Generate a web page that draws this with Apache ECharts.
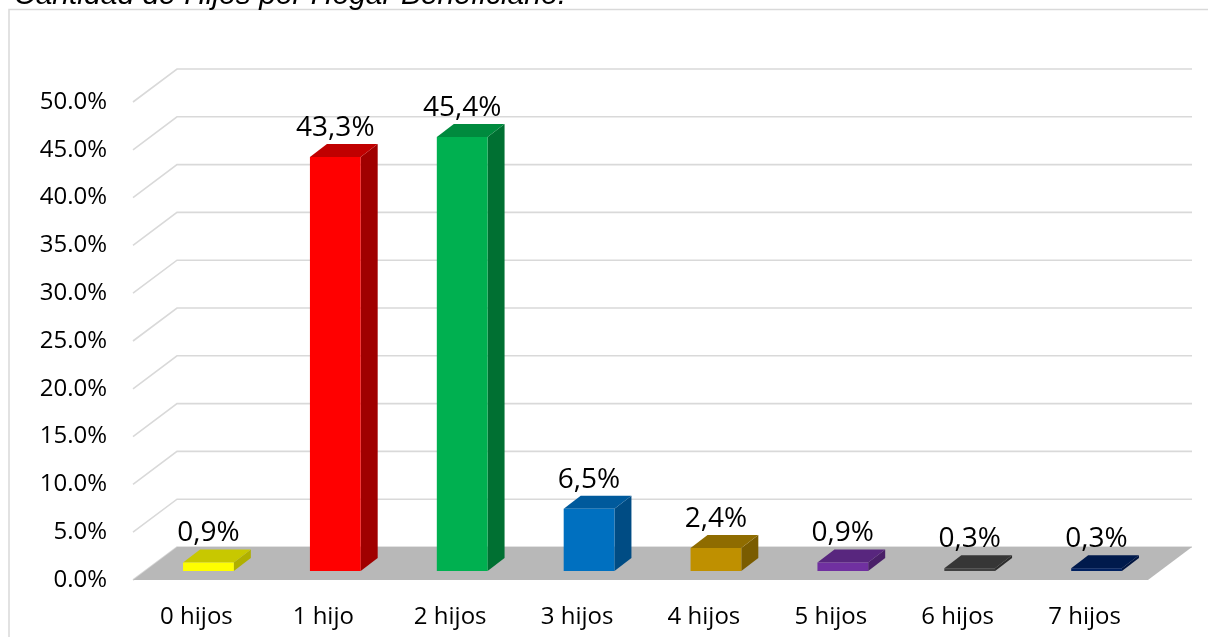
<!DOCTYPE html>
<html>
<head>
<meta charset="utf-8">
<script src="https://cdn.jsdelivr.net/npm/echarts@6/dist/echarts.min.js"></script>
<style>
  html,body{margin:0;padding:0;background:#fff;}
  #main{width:1208px;height:637px;}
</style>
</head>
<body>
<div id="main"></div>
<script>
var categorias = ['0 hijos', '1 hijo', '2 hijos', '3 hijos', '4 hijos', '5 hijos', '6 hijos', '7 hijos'];
var porcentajes = [0.9, 43.3, 45.4, 6.5, 2.4, 0.9, 0.3, 0.3];
var yTicks = [0, 5, 10, 15, 20, 25, 30, 35, 40, 45, 50];
var colorFrente = ['#ffff00', '#ff0000', '#00b050', '#0070c0', '#bf9000', '#7030a0', '#404040', '#002060'];
var colorTapa = ['#c8c800', '#c00000', '#008a3e', '#005a9c', '#8f6c00', '#58267e', '#363636', '#001a4c'];
var colorLado = ['#b0b000', '#a00000', '#007032', '#004c84', '#7a5c00', '#4a2068', '#2c2c2c', '#001440'];

// oblique depth of the 3D box (full floor depth, bar offset, bar depth)
var fondoX = 44, fondoY = -33;
var barOffX = 12, barOffY = -9;
var barDX = 17, barDY = -13;
var fuente = '"Open Sans", "Noto Sans", sans-serif';

function etiqueta(v){
  return v.toFixed(1).replace('.', ',') + '%';
}

var chart = echarts.init(document.getElementById('main'));

var option = {
  animation: false,
  graphic: [{
    type: 'rect',
    shape: {x: 9, y: 9.5, width: 1300, height: 700},
    style: {fill: 'none', stroke: '#d9d9d9', lineWidth: 1.5},
    z: -10
  }, {
    type: 'text',
    x: 14, y: 11,
    style: {
      text: 'Cantidad de Hijos por Hogar Beneficiario.',
      font: 'italic 30px "Liberation Sans", Arial, sans-serif',
      fill: '#000',
      verticalAlign: 'bottom'
    }
  }],
  grid: {
    left: 133,
    right: 60,
    top: 102,
    bottom: 57
  },
  xAxis: {
    type: 'category',
    data: categorias,
    axisLine: {show: false},
    axisTick: {show: false},
    axisLabel: {
      interval: 0,
      margin: 25,
      color: '#000',
      fontSize: 24,
      fontFamily: fuente
    }
  },
  yAxis: {
    type: 'value',
    min: 0,
    max: 50,
    interval: 5,
    axisLine: {show: false},
    axisTick: {show: false},
    splitLine: {show: false},
    axisLabel: {
      margin: 26,
      color: '#000',
      fontSize: 24,
      fontFamily: fuente,
      formatter: function(v){ return v.toFixed(1) + '%'; }
    }
  },
  series: [{
    // back wall + side wall gridlines
    type: 'custom',
    silent: true,
    z: 1,
    data: yTicks.map(function(t){ return [0, t]; }),
    renderItem: function(params, api){
      var cs = params.coordSys;
      var y = api.coord([0, api.value(1)])[1];
      var x0 = cs.x, x1 = cs.x + cs.width;
      return {
        type: 'polyline',
        shape: {points: [[x0, y], [x0 + fondoX, y + fondoY], [x1 + fondoX, y + fondoY]]},
        style: {stroke: '#d9d9d9', lineWidth: 1.6, fill: null}
      };
    }
  }, {
    // floor
    type: 'custom',
    silent: true,
    z: 2,
    data: [[0, 0]],
    renderItem: function(params, api){
      var cs = params.coordSys;
      var y = api.coord([0, 0])[1];
      var x0 = cs.x, x1 = cs.x + cs.width;
      return {
        type: 'polygon',
        shape: {points: [[x0, y], [x1, y], [x1 + fondoX, y + fondoY], [x0 + fondoX, y + fondoY]]},
        style: {fill: '#b8b8b8'}
      };
    }
  }, {
    // 3D bars
    type: 'custom',
    z: 3,
    data: porcentajes.map(function(v, i){ return [i, v]; }),
    renderItem: function(params, api){
      var i = api.value(0), v = api.value(1);
      var base = api.coord([i, 0]);
      var top = api.coord([i, v]);
      var w = api.size([1, 0])[0] * 0.4;
      var cx = base[0] + barOffX;
      var xl = cx - w / 2, xr = cx + w / 2;
      var yb = base[1] + barOffY, yt = top[1] + barOffY;
      var idx = params.dataIndex;
      return {
        type: 'group',
        children: [{
          type: 'polygon',
          shape: {points: [[xr, yt], [xr + barDX, yt + barDY], [xr + barDX, yb + barDY], [xr, yb]]},
          style: {fill: colorLado[idx]}
        }, {
          type: 'polygon',
          shape: {points: [[xl, yt], [xr, yt], [xr + barDX, yt + barDY], [xl + barDX, yt + barDY]]},
          style: {fill: colorTapa[idx]}
        }, {
          type: 'rect',
          shape: {x: xl, y: yt, width: w, height: yb - yt},
          style: {fill: colorFrente[idx]}
        }, {
          type: 'text',
          x: cx,
          y: yt + barDY - 2,
          style: {
            text: etiqueta(v),
            fill: '#000',
            font: '28px ' + fuente,
            align: 'center',
            verticalAlign: 'bottom'
          }
        }]
      };
    }
  }]
};
chart.setOption(option);
</script>
</body>
</html>
